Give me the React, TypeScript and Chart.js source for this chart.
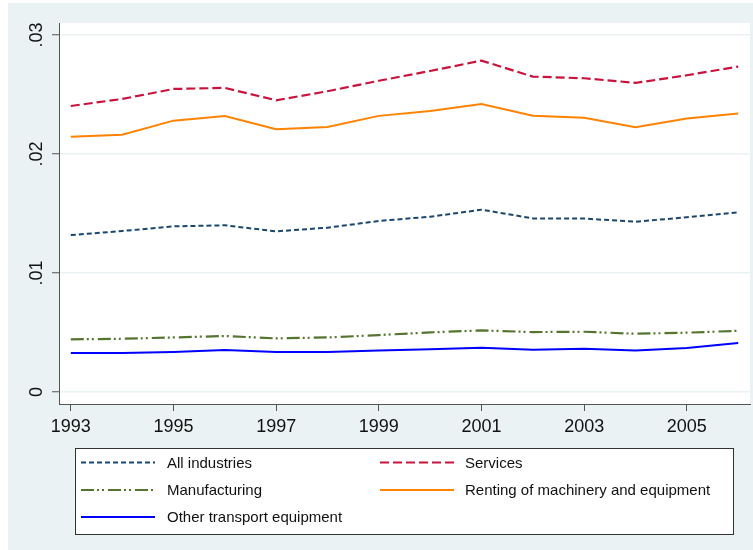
import React, { useEffect, useRef } from "react";
import { Chart, registerables } from "chart.js";

Chart.register(...registerables);

const years = [1993, 1994, 1995, 1996, 1997, 1998, 1999, 2000, 2001, 2002, 2003, 2004, 2005, 2006];
const xTickYears = [1993, 1995, 1997, 1999, 2001, 2003, 2005];
const yTickValues = [0, 0.01, 0.02, 0.03];
const yTickLabels = ["0", ".01", ".02", ".03"];

const allIndustries = [0.01319, 0.01353, 0.01392, 0.01401, 0.0135, 0.01381, 0.01437, 0.01473, 0.01532, 0.01459, 0.01457, 0.01431, 0.01468, 0.0151];
const services = [0.02403, 0.02462, 0.02546, 0.02555, 0.02451, 0.02527, 0.02615, 0.02697, 0.02784, 0.0265, 0.02636, 0.02597, 0.02661, 0.02734];
const manufacturing = [0.00443, 0.00448, 0.00459, 0.00471, 0.00451, 0.00459, 0.00479, 0.00501, 0.00518, 0.00504, 0.00507, 0.0049, 0.00499, 0.00515];
const renting = [0.02145, 0.02162, 0.0228, 0.02319, 0.02207, 0.02227, 0.0232, 0.02361, 0.0242, 0.02322, 0.02305, 0.02224, 0.02297, 0.02339];
const otherTransport = [0.00328, 0.00328, 0.00336, 0.00353, 0.00336, 0.00336, 0.0035, 0.00359, 0.00373, 0.00356, 0.00364, 0.0035, 0.0037, 0.00412];

const FONT = "'Liberation Sans', Arial, Helvetica, sans-serif";
const BG = "#EAF2F3";
const AXIS = "#555555";

type Series = { label: string; data: number[]; color: string; dash: number[]; width: number };

const series: Series[] = [
  { label: "All industries", data: allIndustries, color: "#1A476F", dash: [5, 3], width: 2 },
  { label: "Services", data: services, color: "#C8143C", dash: [9, 4], width: 2.2 },
  { label: "Manufacturing", data: manufacturing, color: "#55752F", dash: [13, 3, 2, 3, 2, 4], width: 2.2 },
  { label: "Renting of machinery and equipment", data: renting, color: "#FF8200", dash: [], width: 2 },
  { label: "Other transport equipment", data: otherTransport, color: "#0000FF", dash: [], width: 2 },
];

const bgPlugin = {
  id: "bgPlugin",
  beforeDraw(chart: any) {
    const { ctx, chartArea } = chart;
    ctx.save();
    ctx.fillStyle = BG;
    ctx.fillRect(0, 0, chart.width, chart.height);
    ctx.fillStyle = "#FFFFFF";
    ctx.fillRect(chartArea.left, chartArea.top, chartArea.right - chartArea.left, chartArea.bottom - chartArea.top);
    ctx.restore();
  },
};

const yLabelPlugin = {
  id: "yLabelPlugin",
  afterDraw(chart: any) {
    const { ctx } = chart;
    const y = chart.scales.y;
    ctx.save();
    ctx.fillStyle = "#111111";
    ctx.font = `18px ${FONT}`;
    ctx.textAlign = "center";
    ctx.textBaseline = "middle";
    yTickValues.forEach((v, i) => {
      const py = y.getPixelForValue(v);
      ctx.save();
      ctx.translate(29, py);
      ctx.rotate(-Math.PI / 2);
      ctx.fillText(yTickLabels[i], 0, 0);
      ctx.restore();
    });
    ctx.restore();
  },
};

const legendPlugin = {
  id: "customLegend",
  afterDraw(chart: any) {
    const { ctx } = chart;
    const left = 67.5, top = 445.5, right = 725.5, bottom = 531.5;
    ctx.save();
    ctx.fillStyle = "#FFFFFF";
    ctx.fillRect(left, top, right - left, bottom - top);
    ctx.strokeStyle = "#333333";
    ctx.lineWidth = 1;
    ctx.strokeRect(left, top, right - left, bottom - top);
    const rows = [459.5, 487, 514];
    const cols = [
      { x0: 73, x1: 147, tx: 159 },
      { x0: 372, x1: 446, tx: 457 },
    ];
    ctx.font = `15px ${FONT}`;
    ctx.textBaseline = "middle";
    ctx.textAlign = "left";
    series.forEach((s, i) => {
      const col = cols[i % 2];
      const ry = rows[Math.floor(i / 2)];
      ctx.beginPath();
      ctx.setLineDash(s.dash);
      ctx.lineCap = "butt";
      ctx.strokeStyle = s.color;
      ctx.lineWidth = s.width;
      ctx.moveTo(col.x0, ry);
      ctx.lineTo(col.x1, ry);
      ctx.stroke();
      ctx.setLineDash([]);
      ctx.fillStyle = "#111111";
      ctx.fillText(s.label, col.tx, ry + 1);
    });
    ctx.restore();
  },
};

export default function App() {
  const ref = useRef<HTMLCanvasElement | null>(null);

  useEffect(() => {
    if (!ref.current) return;
    const chart = new Chart(ref.current, {
      type: "line",
      data: {
        datasets: series.map((s) => ({
          label: s.label,
          data: years.map((yr, i) => ({ x: yr, y: s.data[i] })),
          borderColor: s.color,
          backgroundColor: s.color,
          borderDash: s.dash,
          borderWidth: s.width,
          borderCapStyle: "butt",
          pointRadius: 0,
          tension: 0,
          fill: false,
        })),
      },
      options: {
        animation: false,
        responsive: false,
        maintainAspectRatio: false,
        layout: { padding: { top: 20, right: 3, bottom: 106, left: 0 } },
        plugins: {
          legend: { display: false },
          tooltip: { enabled: false },
          title: { display: false },
        },
        scales: {
          x: {
            type: "linear",
            min: 1992.77,
            max: 2006.23,
            afterBuildTicks: (scale: any) => {
              scale.ticks = xTickYears.map((v) => ({ value: v }));
            },
            afterFit: (scale: any) => {
              scale.height = 40;
            },
            grid: {
              drawOnChartArea: false,
              drawTicks: true,
              tickLength: 7,
              tickColor: AXIS,
              tickWidth: 1,
            },
            border: { display: true, color: AXIS, width: 1 },
            ticks: {
              color: "#111111",
              font: { family: FONT, size: 18 },
              padding: 5,
              maxRotation: 0,
              minRotation: 0,
              autoSkip: false,
              callback: (v: any) => String(v),
            },
          },
          y: {
            type: "linear",
            min: -0.001,
            max: 0.031,
            afterBuildTicks: (scale: any) => {
              scale.ticks = yTickValues.map((v) => ({ value: v }));
            },
            afterFit: (scale: any) => {
              scale.width = 51;
            },
            grid: {
              color: BG,
              lineWidth: 1.5,
              drawTicks: true,
              tickLength: 7,
              tickColor: AXIS,
              tickWidth: 1,
            },
            border: { display: true, color: AXIS, width: 1 },
            ticks: { display: false },
          },
        },
      } as any,
      plugins: [bgPlugin, yLabelPlugin, legendPlugin],
    });
    return () => chart.destroy();
  }, []);

  return (
    <div style={{ position: "absolute", left: 8, top: 3, width: 745, height: 547 }}>
      <canvas ref={ref} width={745} height={547} style={{ display: "block", width: 745, height: 547 }} />
    </div>
  );
}
